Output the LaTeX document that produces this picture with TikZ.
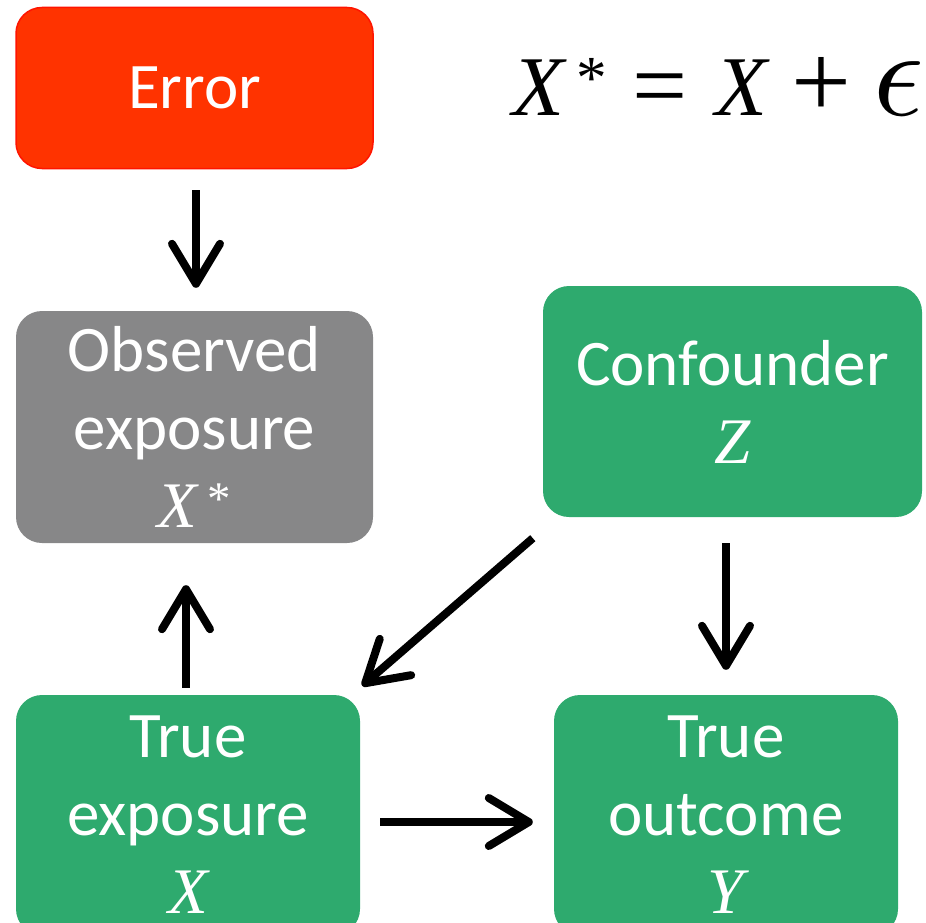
\documentclass[tikz,border=0pt]{standalone}
\usepackage{fontspec}
\setmainfont{Carlito}
\newfontfamily\eqfont{Liberation Serif}
\usetikzlibrary{arrows.meta}
\definecolor{errred}{RGB}{255,51,0}
\definecolor{errline}{RGB}{255,20,0}
\definecolor{obsgray}{RGB}{135,135,136}
\definecolor{dagreen}{RGB}{46,170,110}
\newcommand\mvar[1]{{\eqfont\itshape #1}}
\newcommand\supstar{{\eqfont\raisebox{0.2em}{\scalebox{0.72}{*}}}}
\newcommand\bigeps{\scalebox{12.5}{\fontsize{10}{12}\selectfont$\epsilon$}}
\begin{document}
\begin{tikzpicture}[x=1pt,y=-1pt,
  box/.style={rounded corners=26pt, inner sep=0pt, align=center, text=white,
    font=\fontsize{65}{78}\selectfont},
  arr/.style={line width=8pt, -{Straight Barb[length=40pt,width=48pt,round]}}]
\useasboundingbox (0,0) rectangle (926,923);
\clip (0,0) rectangle (926,923);
\node[box, fill=errred, draw=errline, line width=1.5pt, minimum width=357pt, minimum height=161pt] (err) at (194.5,88) {Error};
\node[box, fill=obsgray, minimum width=357pt, minimum height=232pt] (obs) at (194.5,427) {Observed\\exposure\\\mvar{X}\hspace{10pt}\supstar};
\node[box, fill=dagreen, minimum width=379pt, minimum height=231pt] (conf) at (732.5,401.5) {Confounder\\\mvar{Z}};
\node[box, fill=dagreen, minimum width=344pt, minimum height=240pt] (tex) at (188,815) {True\\exposure\\\mvar{X}};
\node[box, fill=dagreen, minimum width=344pt, minimum height=240pt] (out) at (726,815) {True\\outcome\\\mvar{Y}};
\node[inner sep=0pt, anchor=base west, font=\fontsize{85}{90}\selectfont] (eq) at (512,116) {\mvar{X}\hspace{12pt}\supstar\hspace{26pt}{\eqfont\raisebox{-0.03em}{\scalebox{1.15}{=}}}\hspace{28pt}\mvar{X}\hspace{24pt}{\eqfont\raisebox{-0.02em}{\scalebox{1.25}{+}}}\hspace{22pt}\bigeps};
\draw[arr, shorten <=21pt, shorten >=23pt] ([xshift=1.5pt]err.south) -- ([xshift=1.5pt]err.south |- obs.north);
\draw[arr, shorten <=7pt, shorten >=42pt] ([xshift=-2pt]tex.north) -- ([xshift=-2pt]tex.north |- obs.south);
\draw[arr] ([xshift=-10pt,yshift=-21pt]conf.south west) -- ([xshift=2pt,yshift=9pt]tex.north east);
\draw[arr, shorten <=26pt, shorten >=25pt] (out.north |- conf.south) -- (out.north);
\draw[arr, shorten <=20pt, shorten >=21pt] ([yshift=-7pt]tex.east) -- ([yshift=-7pt]out.west);
\end{tikzpicture}
\end{document}
